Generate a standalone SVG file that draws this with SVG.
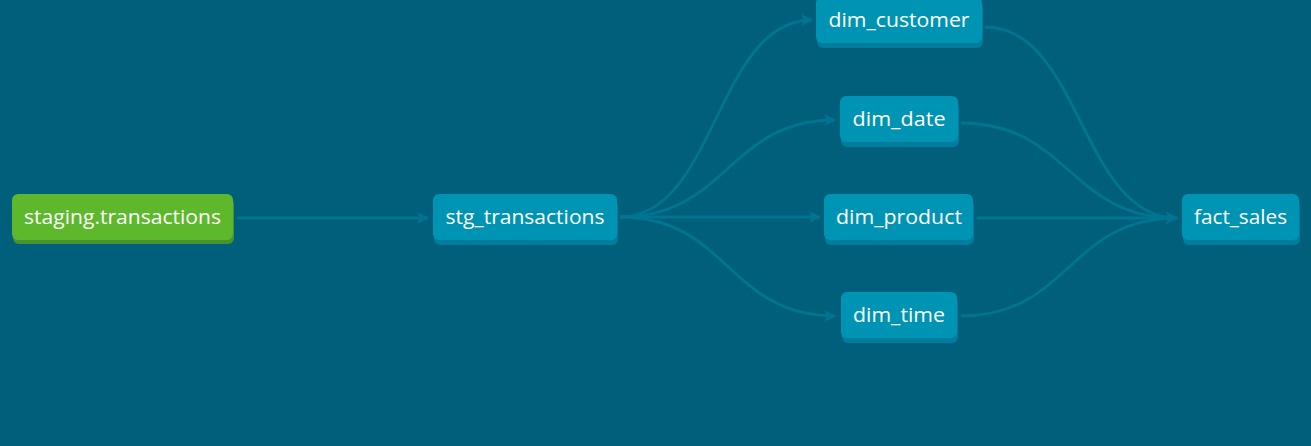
<svg xmlns="http://www.w3.org/2000/svg" width="1311" height="446" viewBox="0 0 1311 446">
<defs>
<marker id="arr" viewBox="0 0 12 12" refX="11" refY="6" markerWidth="12" markerHeight="12" markerUnits="userSpaceOnUse" orient="auto">
<path d="M0,0 L12,6 L0,12 L3,6 Z" fill="#007490"/>
</marker>
<style>
.e{fill:none;stroke:#007490;stroke-width:2.8;marker-end:url(#arr)}
.n{fill:#0094b4}
.ns{fill:#007c9c}
.g{fill:#5db92b}
.gs{fill:#47932f}
.t{font-family:"Open Sans","Noto Sans",sans-serif;font-size:20px;fill:#ffffff;text-anchor:middle;dominant-baseline:central}
</style>
</defs>
<rect width="1311" height="446" fill="#005f7a"/>
<g id="edges">
<path class="e" d="M237,218 L428,218"/>
<path class="e" d="M620,217 C716,217 716,20 812,20"/>
<path class="e" d="M620,217 C728,217 728,120 835,120"/>
<path class="e" d="M620,217 L820,217"/>
<path class="e" d="M620,217 C728,217 728,316 835,316"/>
<path class="e" d="M985,27 C1081,27 1081,218 1177,218"/>
<path class="e" d="M961,123 C1069,123 1069,218 1177,218"/>
<path class="e" d="M977,218 L1177,218"/>
<path class="e" d="M961,316 C1069,316 1069,218 1177,218"/>
</g>
<g id="staging_transactions">
<rect class="gs" x="13" y="198" width="221" height="46" rx="6"/>
<rect class="g" x="12" y="194" width="221" height="46" rx="6"/>
<text class="t" x="122.5" y="216" textLength="197" lengthAdjust="spacingAndGlyphs">staging.transactions</text>
</g>
<g id="stg_transactions">
<rect class="ns" x="434" y="199" width="184" height="46" rx="6"/>
<rect class="n" x="433" y="194" width="184" height="46" rx="6"/>
<text class="t" x="525" y="216" textLength="159" lengthAdjust="spacingAndGlyphs">stg_transactions</text>
</g>
<g id="dim_customer">
<rect class="ns" x="817" y="2" width="166" height="46" rx="6"/>
<rect class="n" x="816" y="-3" width="166" height="46" rx="6"/>
<text class="t" x="899" y="19" textLength="141" lengthAdjust="spacingAndGlyphs">dim_customer</text>
</g>
<g id="dim_date">
<rect class="ns" x="841" y="101" width="118" height="46" rx="6"/>
<rect class="n" x="840" y="96" width="118" height="46" rx="6"/>
<text class="t" x="899" y="118" textLength="93" lengthAdjust="spacingAndGlyphs">dim_date</text>
</g>
<g id="dim_product">
<rect class="ns" x="825" y="199" width="149" height="46" rx="6"/>
<rect class="n" x="824" y="194" width="149" height="46" rx="6"/>
<text class="t" x="899" y="216" textLength="126" lengthAdjust="spacingAndGlyphs">dim_product</text>
</g>
<g id="dim_time">
<rect class="ns" x="842" y="297" width="116" height="46" rx="6"/>
<rect class="n" x="841" y="292" width="116" height="46" rx="6"/>
<text class="t" x="899" y="314" textLength="92" lengthAdjust="spacingAndGlyphs">dim_time</text>
</g>
<g id="fact_sales">
<rect class="ns" x="1183" y="199" width="117" height="46" rx="6"/>
<rect class="n" x="1182" y="194" width="117" height="46" rx="6"/>
<text class="t" x="1240.5" y="216" textLength="93" lengthAdjust="spacingAndGlyphs">fact_sales</text>
</g>
</svg>
